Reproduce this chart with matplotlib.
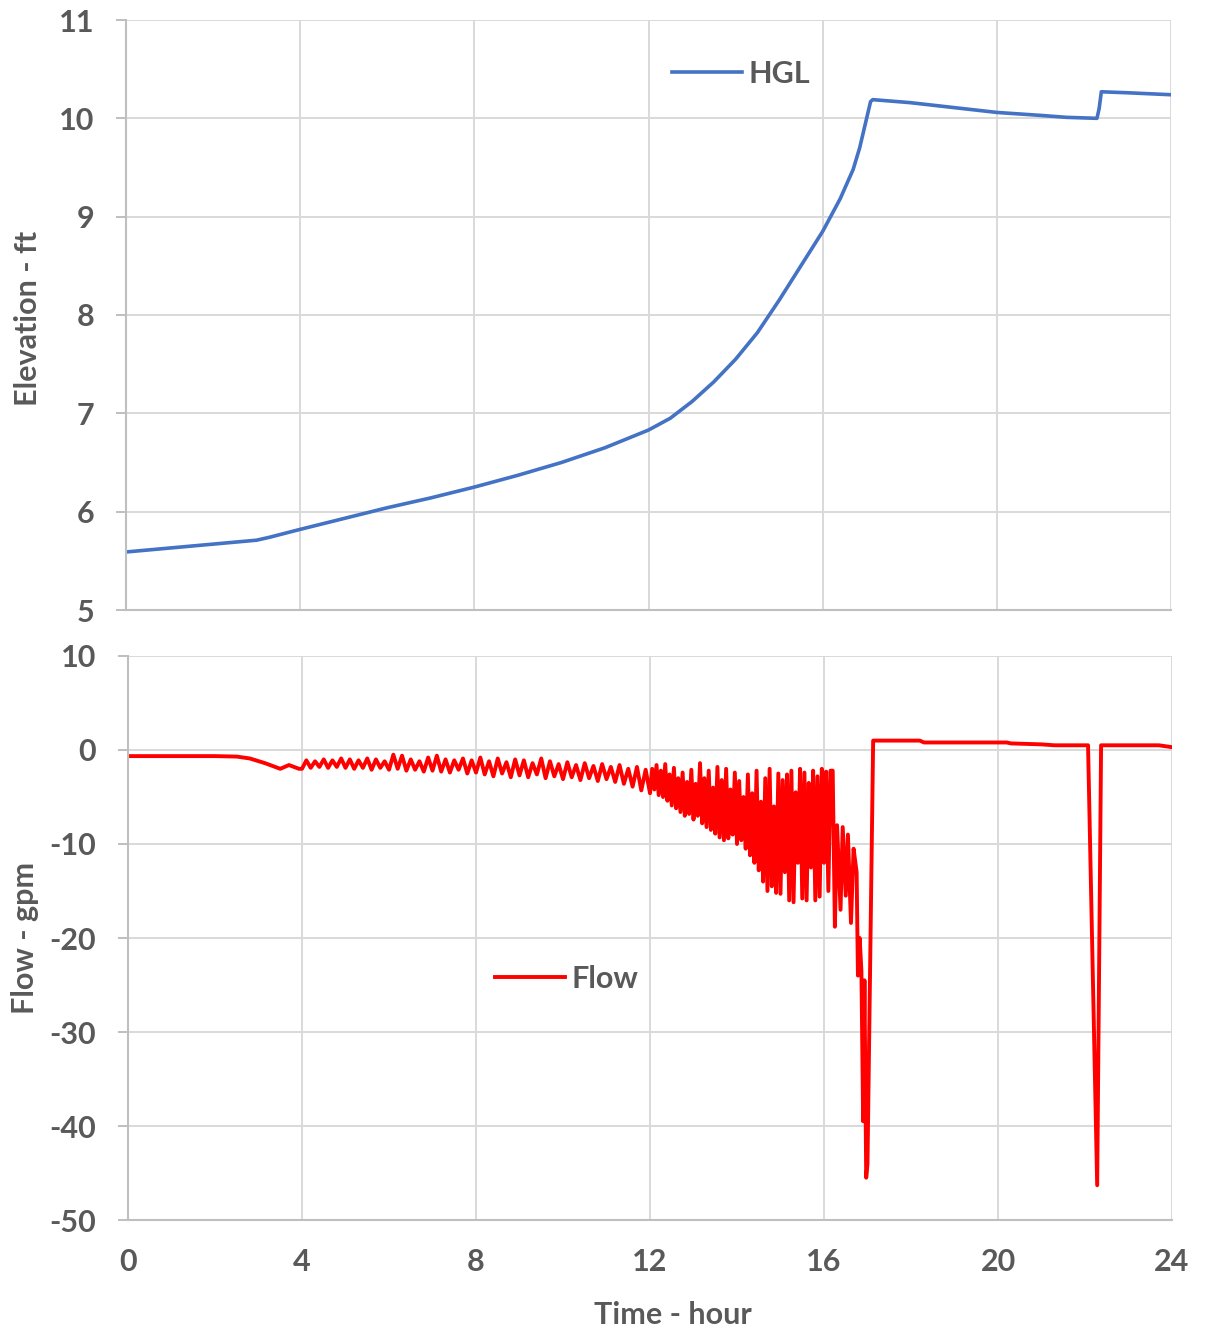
import numpy as np
import matplotlib
matplotlib.use('Agg')
import matplotlib.pyplot as plt

plt.rcParams['font.family'] = ['Lato', 'DejaVu Sans']
plt.rcParams['axes.unicode_minus'] = False

# HGL (top panel)
hgl_t = [0, 1, 2, 3, 3.3, 4, 5, 6, 7, 8, 9, 10, 11, 12, 12.5, 13, 13.5, 14, 14.5,
         15, 15.5, 16, 16.4, 16.7, 16.85, 17.1, 17.15, 18, 19, 20, 21, 21.6, 22.3,
         22.35, 22.4, 23, 24]
hgl_v = [5.59, 5.63, 5.67, 5.71, 5.74, 5.82, 5.93, 6.04, 6.14, 6.25, 6.37, 6.50, 6.65,
         6.83, 6.95, 7.12, 7.32, 7.55, 7.82, 8.15, 8.50, 8.85, 9.18, 9.48, 9.70, 10.17,
         10.19, 10.16, 10.11, 10.06, 10.03, 10.01, 10.0, 10.1, 10.27, 10.26, 10.24]

# Flow (bottom panel) - steady start
flow_t0 = [0, 1, 2, 2.5, 2.8, 3.15, 3.5, 3.7, 3.93]
flow_v0 = [-0.65, -0.65, -0.65, -0.7, -0.9, -1.4, -2.0, -1.6, -2.0]

# small oscillations, every 0.1 h from 4.0 to 11.9
flow_t1 = np.round(np.arange(4.0, 11.91, 0.1), 2)
flow_v1 = [-2.0, -1.1, -1.9, -1.2, -1.8, -1.0, -1.9, -1.1, -1.8, -0.9,
           -1.9, -1.0, -2.0, -1.1, -1.9, -0.9, -2.1, -1.0, -1.9, -1.2,
           -2.1, -0.5, -2.0, -0.6, -2.2, -1.0, -2.1, -1.2, -2.3, -0.8,
           -2.2, -0.6, -2.3, -1.0, -2.4, -1.1, -2.1, -0.9, -2.5, -1.1,
           -2.4, -0.8, -2.6, -1.2, -2.8, -0.9, -2.5, -1.3, -2.9, -1.0,
           -2.7, -1.1, -2.9, -1.4, -2.6, -0.9, -3.0, -1.2, -2.8, -1.5,
           -3.1, -1.3, -2.9, -1.6, -3.2, -1.4, -3.0, -1.7, -3.3, -1.5,
           -3.1, -1.8, -3.4, -1.6, -3.6, -2.0, -3.9, -1.8, -4.3, -2.1]

# large oscillations, every 0.05 h from 12.0 to 16.2
flow_t2 = np.round(np.arange(12.0, 16.201, 0.05), 2)
flow_v2 = [-4.6, -2.0, -4.2, -1.6, -4.8, -2.2, -5.0, -1.5, -5.4, -2.6,
           -5.9, -1.9, -6.2, -3.0, -6.6, -2.4, -7.0, -3.4, -6.8, -2.1,
           -7.4, -3.6, -7.0, -1.4, -7.8, -3.0, -8.2, -2.2, -8.5, -4.0,
           -8.9, -1.8, -9.3, -3.2, -9.6, -2.0, -9.4, -4.2, -9.0, -2.4,
           -10.0, -3.3, -9.6, -5.0, -10.5, -2.6, -11.2, -4.6, -12.0, -2.2,
           -12.8, -5.5, -14.0, -3.0, -15.0, -2.0, -14.5, -6.0, -15.2, -2.5,
           -15.3, -3.2, -13.0, -2.6, -16.0, -2.2, -16.2, -4.5, -12.0, -2.0,
           -15.8, -2.4, -16.0, -3.5, -12.5, -2.2, -16.0, -2.8, -15.6, -2.0,
           -12.0, -2.3, -15.0, -2.2, -2.2]

# collapse and recovery
flow_t3 = [16.25, 16.3, 16.38, 16.43, 16.5, 16.55, 16.62, 16.68, 16.75, 16.78, 16.82,
           16.86, 16.9, 16.93, 16.97, 17.0, 17.13, 18.2, 18.3, 20.2, 20.3, 21.0, 21.3,
           22.07, 22.28, 22.37, 23.7, 24.0]
flow_v3 = [-18.8, -8.0, -17.0, -8.2, -15.5, -9.0, -18.4, -10.5, -13.0, -24.0, -20.0,
           -23.5, -39.5, -24.5, -45.5, -44.0, 1.0, 1.0, 0.8, 0.8, 0.7, 0.6, 0.5,
           0.5, -46.3, 0.5, 0.5, 0.3]

flow_t = np.concatenate([flow_t0, flow_t1, flow_t2, flow_t3])
flow_v = np.concatenate([flow_v0, flow_v1, flow_v2, flow_v3])

grey = '#595959'
grid_c = '#D9D9D9'
spine_c = '#BFBFBF'
fs = 22

fig = plt.figure(figsize=(12.08, 13.33), dpi=100)
ax1 = fig.add_axes([126/1208, 1-610/1333, (1171-126)/1208, 590/1333])
ax2 = fig.add_axes([128/1208, 1-1220/1333, (1172-128)/1208, 564/1333])


def style(ax):
    ax.grid(True, color=grid_c, lw=1.4)
    ax.set_axisbelow(True)
    for s in ['top', 'right']:
        ax.spines[s].set_visible(False)
    for s in ['left', 'bottom']:
        ax.spines[s].set_color(spine_c)
        ax.spines[s].set_linewidth(1.5)
    ax.tick_params(axis='y', length=7, width=1.4, color=spine_c, pad=16,
                   labelsize=fs, labelcolor=grey)
    ax.tick_params(axis='x', length=0, pad=20, labelsize=fs, labelcolor=grey)
    for lab in ax.get_xticklabels() + ax.get_yticklabels():
        lab.set_fontweight('bold')


ax1.plot(hgl_t, hgl_v, color='#4472C4', lw=2.6, label='HGL')
ax1.set_xlim(0, 24)
ax1.set_ylim(5, 11)
ax1.set_xticks(range(0, 25, 4))
ax1.set_yticks(range(5, 12))
style(ax1)
ax1.set_xticklabels([])

ax2.plot(flow_t, flow_v, color='#FF0000', lw=2.8, label='Flow')
ax2.set_xlim(0, 24)
ax2.set_ylim(-50, 10)
ax2.set_xticks(range(0, 25, 4))
ax2.set_yticks(range(-50, 11, 10))
style(ax2)

for ax, xy in [(ax1, (672/1208, 1-74/1333)), (ax2, (495/1208, 1-979/1333))]:
    ax.legend(loc='center left', bbox_to_anchor=xy, bbox_transform=fig.transFigure,
              frameon=False, borderpad=0, borderaxespad=0, handlelength=2.3,
              handletextpad=0.2, prop={'size': fs, 'weight': 'bold'},
              labelcolor=grey)

fig.text(28/1208, 1-318/1333, 'Elevation - ft', rotation=90, ha='center', va='center',
         fontsize=fs, fontweight='bold', color=grey)
fig.text(25/1208, 1-938/1333, 'Flow - gpm', rotation=90, ha='center', va='center',
         fontsize=fs, fontweight='bold', color=grey)
fig.text(673/1208, 1-1315/1333, 'Time - hour', ha='center', va='center',
         fontsize=fs, fontweight='bold', color=grey)

fig.savefig('out.png', dpi=100)
